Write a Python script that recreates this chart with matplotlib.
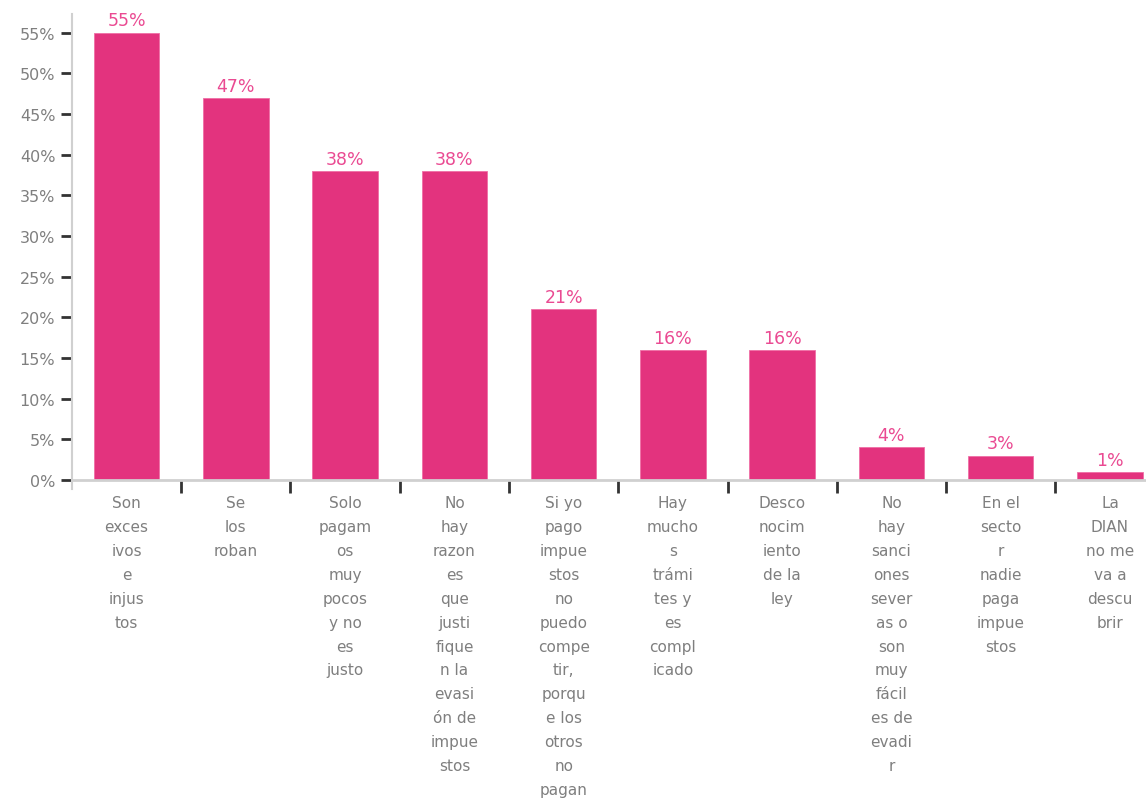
import numpy as np
import matplotlib
matplotlib.use("Agg")
from matplotlib import pyplot as plt
from matplotlib.ticker import FuncFormatter

categorias = [
    "Son\nexces\nivos\ne\ninjus\ntos",
    "Se\nlos\nroban",
    "Solo\npagam\nos\nmuy\npocos\ny no\nes\njusto",
    "No\nhay\nrazon\nes\nque\njusti\nfique\nn la\nevasi\nón de\nimpue\nstos",
    "Si yo\npago\nimpue\nstos\nno\npuedo\ncompe\ntir,\nporqu\ne los\notros\nno\npagan",
    "Hay\nmucho\ns\ntrámi\ntes y\nes\ncompl\nicado",
    "Desco\nnocim\niento\nde la\nley",
    "No\nhay\nsanci\nones\nsever\nas o\nson\nmuy\nfácil\nes de\nevadi\nr",
    "En el\nsecto\nr\nnadie\npaga\nimpue\nstos",
    "La\nDIAN\nno me\nva a\ndescu\nbrir",
]
valores = [0.55, 0.47, 0.38, 0.38, 0.21, 0.16, 0.16, 0.04, 0.03, 0.01]

plt.rcParams["font.family"] = ["DejaVu Sans"]

rosa = "#e3337e"
gris = "#7f7f7f"

fig = plt.figure(figsize=(11.46, 8.04), dpi=100)
ax = fig.add_axes([0.0628, 1 - 481 / 804, 0.9372, 466 / 804])

x = np.arange(len(valores))
ax.bar(x, valores, width=0.6, color=rosa, edgecolor="#ef6fa5", linewidth=0.6)

for xi, v in zip(x, valores):
    ax.text(xi, v + 0.004, f"{v*100:.0f}%", ha="center", va="bottom",
            color="#ea4a92", fontsize=12.5)

ax.set_xlim(-0.5, 9.33)
ax.set_ylim(0, 0.573)
ax.set_yticks(np.arange(0, 0.56, 0.05))
ax.yaxis.set_major_formatter(FuncFormatter(lambda v, p: f"{v*100:.0f}%"))
ax.tick_params(axis="y", length=8, width=2, color="#333333", pad=4,
               labelsize=11.5, labelcolor=gris)

ax.set_xticks(x)
ax.set_xticklabels(categorias, fontsize=11, color=gris, linespacing=1.74, va="top")
ax.tick_params(axis="x", length=0, pad=11)
ax.set_xticks(np.arange(0.5, 9, 1), minor=True)
ax.tick_params(axis="x", which="minor", length=9, width=2, color="#333333")

for s in ["top", "right"]:
    ax.spines[s].set_visible(False)
ax.spines["left"].set_color("#d0d0d0")
ax.spines["left"].set_linewidth(1.5)
ax.spines["left"].set_bounds(-0.011, 0.573)
ax.spines["bottom"].set_color("#d0d0d0")
ax.spines["bottom"].set_linewidth(2)

plt.savefig("out.png", dpi=100)
